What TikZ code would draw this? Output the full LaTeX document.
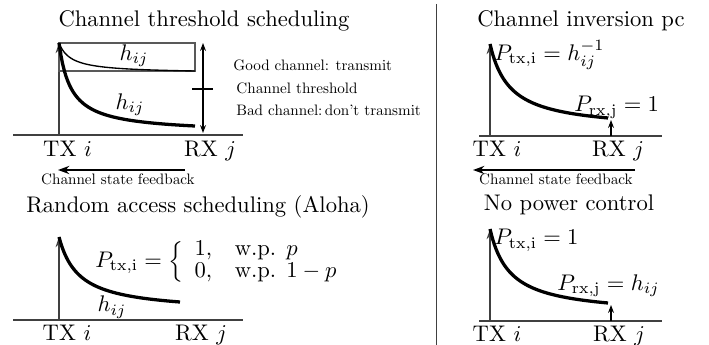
\documentclass[tikz,border=0pt]{standalone}
\usetikzlibrary{arrows.meta}
\font\smallrm=cmr10 at 6.7pt
\begin{document}
\begin{tikzpicture}[x=0.4425pt,y=-0.4425pt,
  axisline/.style={draw=black!75,line width=0.55pt},
  uparrow/.style={draw=black!75,line width=0.55pt,-{Stealth[length=4.5pt,width=3pt]}},
  smallup/.style={draw=black,line width=0.5pt,-{Stealth[length=3.5pt,width=2.6pt]}},
  decay/.style={line width=1.45pt},
  thindecay/.style={line width=0.6pt},
  fbarrow/.style={line width=0.9pt,-{Stealth[length=5pt,width=3.6pt]}},
  title/.style={anchor=base,inner sep=0pt,font=\fontsize{10}{12}\selectfont},
  lbl/.style={anchor=base,inner sep=0pt,font=\fontsize{10}{12}\selectfont},
  eq/.style={anchor=base west,inner sep=0pt,font=\fontsize{10}{12}\selectfont},
  small/.style={anchor=base west,inner sep=0pt,font=\smallrm},
  smallc/.style={anchor=base,inner sep=0pt,font=\smallrm}]
\useasboundingbox (0,0) rectangle (709,345);

% divider
\coordinate (dtop) at (436.5,4);
\coordinate (dbot) at (436.5,345);
\draw[draw=black!75,line width=0.6pt] (dtop) -- (dbot);

%% Panel 1: channel threshold scheduling
\node[title] (t1) at (204,26.5) {Channel threshold scheduling};
\coordinate (a1l) at (13,135); \coordinate (a1r) at (243,135);
\draw[axisline] (a1l) -- (a1r);
\coordinate (o1) at (59,135); \coordinate (p1) at (59,43);
\draw[uparrow] (o1) -- (p1);
\draw[draw=black!65,line width=0.6pt] (59,43) rectangle (195,71);
\draw[thindecay] plot[domain=0:136,samples=80,variable=\t] ({59+\t},{43+28*(1-12/(\t+12))/(1-12/148)});
\draw[decay] plot[domain=0:136,samples=80,variable=\t] ({59+\t},{43+83*(1-12/(\t+12))/(1-12/148)});
\node[inner sep=0pt,font=\fontsize{10}{12}\selectfont] (h1a) at (134,56) {$h_{ij}$};
\node[inner sep=0pt,font=\fontsize{10}{12}\selectfont] (h1b) at (130,105) {$h_{ij}$};
\coordinate (d1t) at (203,43); \coordinate (d1b) at (203,133);
\draw[line width=0.5pt,{Stealth[length=3.5pt,width=2.6pt]}-{Stealth[length=3.5pt,width=2.6pt]}] (d1t) -- (d1b);
\coordinate (k1l) at (192,89); \coordinate (k1r) at (213,89);
\draw[line width=1.2pt] (k1l) -- (k1r);
\node[small] (g1) at (233,70.5) {Good channel: transmit};
\node[small] (c1) at (236,93.5) {Channel threshold};
\node[small] (b1) at (236,116) {Bad channel:\,don't transmit};
\node[lbl] (tx1) at (67.5,156.5) {TX $i$};
\node[lbl] (rx1) at (210,156.5) {RX $j$};
\coordinate (f1s) at (185,170); \coordinate (f1e) at (58,170);
\draw[fbarrow] (f1s) -- (f1e);
\node[smallc] (fb1) at (118,185) {Channel state feedback};

%% Panel 2: random access
\node[title] (t2) at (198,212.7) {Random access scheduling (Aloha)};
\coordinate (a2l) at (13,320); \coordinate (a2r) at (243,320);
\draw[axisline] (a2l) -- (a2r);
\coordinate (o2) at (59,320); \coordinate (p2) at (59,237);
\draw[uparrow] (o2) -- (p2);
\draw[decay] plot[domain=0:121,samples=80,variable=\t] ({59+\t},{237+65*(1-20/(\t+20))/(1-20/141)});
\node[inner sep=0pt,font=\fontsize{10}{12}\selectfont] (h2) at (112,307) {$h_{ij}$};
\node[eq] (e2) at (95,267.5) {$P_{\mathrm{tx,i}}=\left\{\renewcommand{\arraystretch}{0.8}\begin{array}{ll}1, & \mbox{w.p. } p\\ 0, & \mbox{w.p. } 1-p\end{array}\right.$};
\node[lbl] (tx2) at (67,341) {TX $i$};
\node[lbl] (rx2) at (201,341) {RX $j$};

%% Panel 3: channel inversion
\node[title] (t3) at (581,26.7) {Channel inversion pc};
\coordinate (a3l) at (479,136); \coordinate (a3r) at (662,136);
\draw[axisline] (a3l) -- (a3r);
\coordinate (o3) at (490,136); \coordinate (p3) at (490,44);
\draw[uparrow] (o3) -- (p3);
\draw[decay] plot[domain=0:118,samples=80,variable=\t] ({490+\t},{44+74*(1-20/(\t+20))/(1-20/138)});
\coordinate (s3b) at (611,136); \coordinate (s3t) at (611,120);
\draw[smallup] (s3b) -- (s3t);
\node[eq] (e3a) at (494,60.5) {$P_{\mathrm{tx,i}}=h_{ij}^{-1}$};
\node[eq] (e3b) at (574,112) {$P_{\mathrm{rx,j}}=1$};
\node[lbl] (tx3) at (497,156.5) {TX $i$};
\node[lbl] (rx3) at (618,156.5) {RX $j$};
\coordinate (f3s) at (635,170); \coordinate (f3e) at (473,170);
\draw[fbarrow] (f3s) -- (f3e);
\node[smallc] (fb3) at (556,185) {Channel state feedback};

%% Panel 4: no power control
\node[title] (t4) at (569,210.7) {No power control};
\coordinate (a4l) at (479,321); \coordinate (a4r) at (662,321);
\draw[axisline] (a4l) -- (a4r);
\coordinate (o4) at (490,321); \coordinate (p4) at (490,229);
\draw[uparrow] (o4) -- (p4);
\draw[decay] plot[domain=0:118,samples=80,variable=\t] ({490+\t},{229+74*(1-20/(\t+20))/(1-20/138)});
\coordinate (s4b) at (611,321); \coordinate (s4t) at (611,305);
\draw[smallup] (s4b) -- (s4t);
\node[eq] (e4a) at (494,245) {$P_{\mathrm{tx,i}}=1$};
\node[eq] (e4b) at (557,290.5) {$P_{\mathrm{rx,j}}=h_{ij}$};
\node[lbl] (tx4) at (497,342) {TX $i$};
\node[lbl] (rx4) at (619,342) {RX $j$};
\end{tikzpicture}
\end{document}
